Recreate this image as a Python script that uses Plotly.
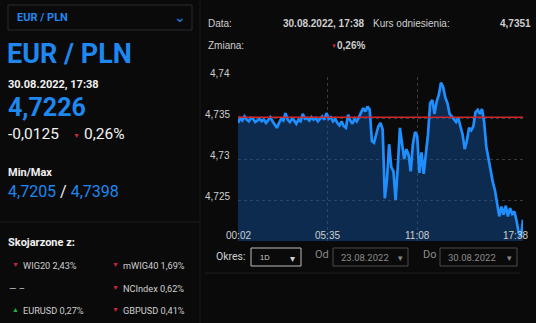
import pandas as pd
import plotly.graph_objects as go

W, H = 536, 323

# ---- data ----
start_time = "2022-08-30 00:02"
step_minutes = 8
prices = [
    4.7344, 4.7350, 4.7347, 4.7352, 4.7348, 4.7346, 4.7350, 4.7349, 4.7345, 4.7347,
    4.7349, 4.7346, 4.7348, 4.7344, 4.7347, 4.7351, 4.7346, 4.7342, 4.7338, 4.7344,
    4.7349, 4.7347, 4.7356, 4.7348, 4.7345, 4.7349, 4.7347, 4.7343, 4.7348, 4.7346,
    4.7355, 4.7349, 4.7350, 4.7347, 4.7351, 4.7348, 4.7350, 4.7346, 4.7349, 4.7352,
    4.7348, 4.7356, 4.7349, 4.7351, 4.7346, 4.7349, 4.7344, 4.7341, 4.7346, 4.7340,
    4.7338, 4.7354, 4.7347, 4.7343, 4.7349, 4.7346, 4.7351, 4.7357, 4.7362, 4.7358,
    4.7364, 4.7360, 4.7322, 4.7320, 4.7332, 4.7340, 4.7344, 4.7336, 4.7252, 4.7275,
    4.7318, 4.7290, 4.7285, 4.7250, 4.7290, 4.7338, 4.7318, 4.7300, 4.7312, 4.7305,
    4.7285, 4.7318, 4.7333, 4.7328, 4.7283, 4.7308, 4.7282, 4.7310, 4.7330, 4.7368,
    4.7372, 4.7355, 4.7370, 4.7378, 4.7393, 4.7388, 4.7375, 4.7368, 4.7355, 4.7352,
    4.7348, 4.7345, 4.7350, 4.7338, 4.7330, 4.7312, 4.7322, 4.7338, 4.7335, 4.7340,
    4.7357, 4.7360, 4.7355, 4.7361, 4.7345, 4.7315, 4.7300, 4.7285, 4.7272, 4.7262,
    4.7245, 4.7230, 4.7242, 4.7232, 4.7243, 4.7230, 4.7240, 4.7233, 4.7236, 4.7225,
    4.7210, 4.7205, 4.7226,
]
reference_rate = 4.7351
y_ticks = [4.725, 4.73, 4.735, 4.74]
y_tick_labels = ["4,725", "4,73", "4,735", "4,74"]
x_ticks = ["2022-08-30 00:02", "2022-08-30 05:35", "2022-08-30 11:08", "2022-08-30 17:38"]
x_tick_labels = ["00:02", "05:35", "11:08", "17:38"]

related_left = [("▼", "WIG20 2,43%"), (None, "— –"), ("▲", "EURUSD 0,27%")]
related_right = [("▼", "mWIG40 1,69%"), ("▼", "NCIndex 0,62%"), ("▼", "GBPUSD 0,41%")]

times = pd.date_range(start_time, periods=len(prices), freq=f"{step_minutes}min")

BG = "#0a0a0a"
BLUE = "#1e88f0"
LINE_BLUE = "#1f8fff"
RED = "#d0213a"
GREEN = "#22b14c"
WHITE = "#f2f2f2"
GREY = "#cfcfcf"

def px(x):
    return x / W

def py(y):
    return 1 - y / H

fig = go.Figure()
fig.add_trace(go.Scatter(
    x=times, y=prices, mode="lines",
    line=dict(color=LINE_BLUE, width=2.7),
    fill="tozeroy", fillcolor="rgba(18,92,180,0.40)",
    hoverinfo="skip", showlegend=False,
))

x0, x1 = times[0], times[-1]
fig.add_trace(go.Scatter(
    x=[x0, x1], y=[reference_rate, reference_rate], mode="lines",
    line=dict(color="#d0262c", width=1.6), hoverinfo="skip", showlegend=False,
))

ann = []
shapes = []

def text(x, y, s, size=10, color=GREY, bold=False, anchor="left", family="Roboto", yanchor="middle"):
    if bold:
        s = "<b>" + s + "</b>"
    ann.append(dict(x=px(x), y=py(y), xref="paper", yref="paper", text=s, showarrow=False,
                    xanchor=anchor, yanchor=yanchor, borderpad=0,
                    font=dict(size=size, color=color, family=family)))

def rect(xa, ya, xb, yb, color, width=1):
    shapes.append(dict(type="rect", xref="paper", yref="paper",
                       x0=px(xa), y0=py(ya), x1=px(xb), y1=py(yb),
                       line=dict(color=color, width=width), fillcolor="rgba(0,0,0,0)"))

def hline(xa, xb, y, color, width=1):
    shapes.append(dict(type="line", xref="paper", yref="paper",
                       x0=px(xa), y0=py(y), x1=px(xb), y1=py(y),
                       line=dict(color=color, width=width)))

def vline(x, ya, yb, color, width=1):
    shapes.append(dict(type="line", xref="paper", yref="paper",
                       x0=px(x), y0=py(ya), x1=px(x), y1=py(yb),
                       line=dict(color=color, width=width)))

# ---- left panel ----
rect(8, 5, 192, 30, "#262a30")
text(16, 17.5, "EUR / PLN", size=11, color=BLUE, bold=True)
text(180, 17.5, "⌄", size=14, color=BLUE, anchor="center", yanchor="middle")
text(6, 54, "EUR / PLN", size=27, color=BLUE, bold=True)
text(7, 85, "30.08.2022, 17:38", size=11, color=WHITE, bold=True)
text(7, 108, "4,7226", size=25, color=BLUE, bold=True)
text(7, 134, "-0,0125", size=15.5, color=WHITE)
text(76, 136, "▼", size=7, color=RED, anchor="center")
text(83, 134, "0,26%", size=15.5, color=WHITE)
text(7, 172, "Min/Max", size=11, color=WHITE, bold=True)
text(7, 191, "4,7205 <span style='color:#f2f2f2'>/</span> 4,7398", size=16, color=BLUE)
hline(0, 200, 222, "#1c1c1c")
text(7, 242, "Skojarzone z:", size=11, color=WHITE, bold=True)
rows_y = [265, 288, 310]
for (tri, lbl), yy in zip(related_left, rows_y):
    if tri is None:
        text(8, yy, lbl, size=9.5, color=GREY)
    else:
        text(15, yy, tri, size=7, color=GREEN if tri == "▲" else RED, anchor="center")
        text(22, yy, lbl, size=9.2, color=GREY)
for (tri, lbl), yy in zip(related_right, rows_y):
    text(116, yy, tri, size=7, color=GREEN if tri == "▲" else RED, anchor="center")
    text(122, yy, lbl, size=9.2, color=GREY)

vline(200, 0, 323, "#161616")

# ---- right panel header ----
LF = "Liberation Sans"
text(207, 23, "Data:", size=10, color=GREY, family=LF)
text(366, 23, "30.08.2022, 17:38", size=10, color=GREY, bold=True, anchor="right", family=LF)
text(372, 23, "Kurs odniesienia:", size=10, color=GREY, family=LF)
text(532, 23, "4,7351", size=10, color=GREY, bold=True, anchor="right", family=LF)
text(207, 46, "Zmiana:", size=10, color=GREY, family=LF)
text(334, 46, "▼", size=6, color=RED, anchor="center", family=LF)
text(366, 46, "0,26%", size=10, color=GREY, bold=True, anchor="right", family=LF)

# ---- chart tick labels ----
for v, lab in zip(y_ticks, y_tick_labels):
    ann.append(dict(x=px(231), y=v, xref="paper", yref="y", text=lab, showarrow=False,
                    xanchor="right", yanchor="bottom", yshift=-3, borderpad=0,
                    font=dict(size=10, color=GREY, family=LF)))
x_anchors = ["center", "center", "center", "right"]
for v, lab, a in zip(x_ticks, x_tick_labels, x_anchors):
    ann.append(dict(x=v, y=py(235), xref="x", yref="paper", text=lab, showarrow=False,
                    xanchor=a, yanchor="middle", xshift=(6 if a == "right" else 0), borderpad=0,
                    font=dict(size=10, color=GREY, family=LF)))

# ---- bottom controls ----
text(215, 256, "Okres:", size=10.5, color=GREY, family="Roboto")
rect(251, 248, 301, 266, "#bdbdbd")
text(259, 257, "1D", size=7.5, color=GREY, family=LF)
text(292, 258, "▾", size=10, color=GREY, anchor="center", family=LF)
text(314, 254, "Od", size=11, color="#8a8a8a", family="Roboto")
rect(333, 248, 408, 266, "#4a4a4a")
text(340, 257, "23.08.2022", size=9.5, color="#8a8a8a", family="Roboto")
text(400, 258, "▾", size=9, color="#8a8a8a", anchor="center", family=LF)
text(422, 254, "Do", size=11, color="#8a8a8a", family="Roboto")
rect(440, 248, 517, 266, "#4a4a4a")
text(447, 257, "30.08.2022", size=9.5, color="#8a8a8a", family="Roboto")
text(509, 258, "▾", size=9, color="#8a8a8a", anchor="center", family=LF)
hline(205, 520, 273, "#1f1f1f")

fig.update_layout(
    width=W, height=H,
    paper_bgcolor=BG, plot_bgcolor=BG,
    margin=dict(l=0, r=0, t=0, b=0),
    showlegend=False,
    annotations=ann, shapes=shapes,
    xaxis=dict(domain=[px(238), px(523)], range=[x0, x1], type="date",
               tickvals=x_ticks, showticklabels=False,
               showgrid=True, gridcolor="#3a3a3a", griddash="dot", gridwidth=1,
               zeroline=False, showline=False, fixedrange=True),
    yaxis=dict(domain=[py(241), py(77)], range=[4.7200, 4.7400],
               tickvals=y_ticks, showticklabels=False,
               showgrid=True, gridcolor="#3a3a3a", griddash="dot", gridwidth=1,
               zeroline=False, showline=False, fixedrange=True),
)

fig.write_html("out.html", config={"displayModeBar": False})
